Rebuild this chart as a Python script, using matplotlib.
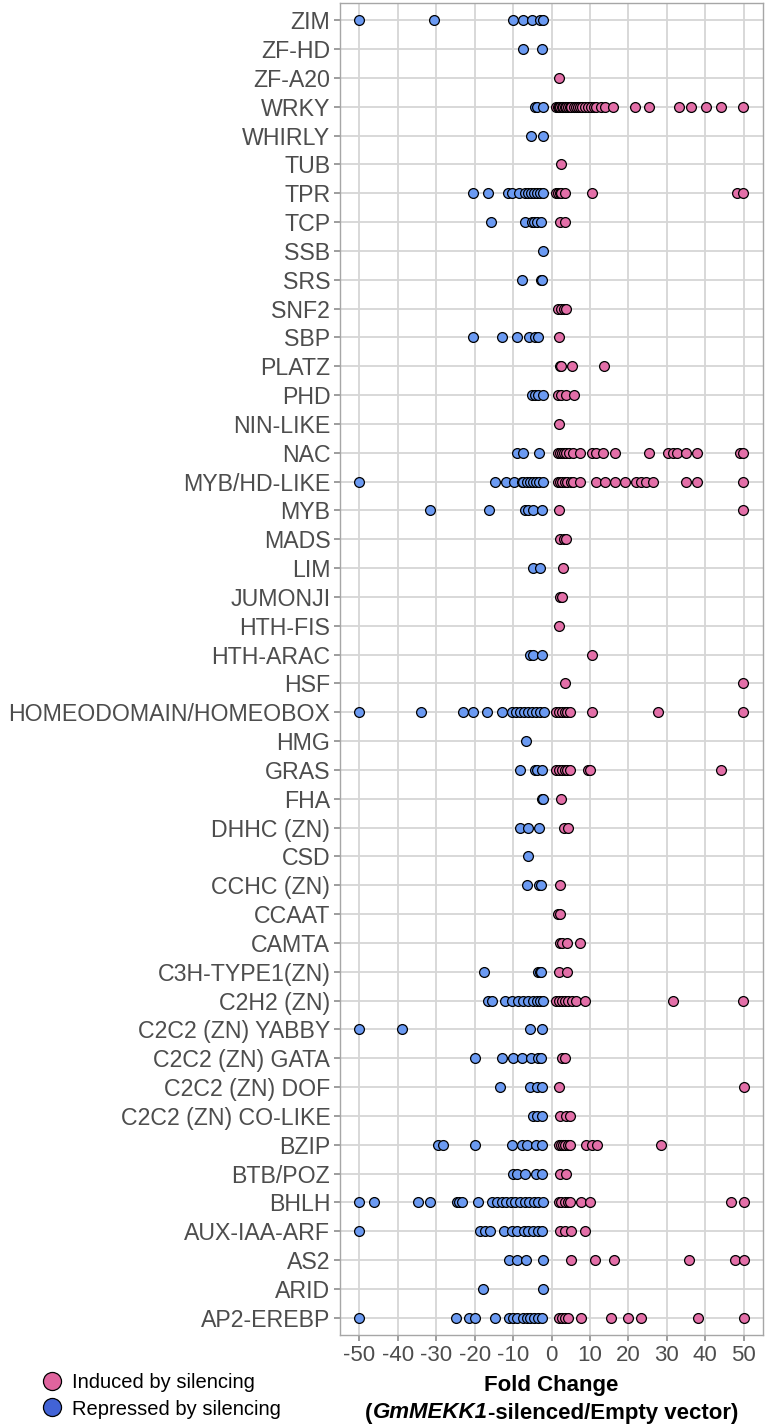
"""Dot plot of TF family fold changes after GmMEKK1 silencing."""

import matplotlib
matplotlib.use('Agg')
import matplotlib.pyplot as plt
from matplotlib.lines import Line2D


CATEGORIES = [
    'ZIM', 'ZF-HD', 'ZF-A20', 'WRKY', 'WHIRLY', 'TUB', 'TPR', 'TCP', 'SSB',
    'SRS', 'SNF2', 'SBP', 'PLATZ', 'PHD', 'NIN-LIKE', 'NAC', 'MYB/HD-LIKE',
    'MYB', 'MADS', 'LIM', 'JUMONJI', 'HTH-FIS', 'HTH-ARAC', 'HSF',
    'HOMEODOMAIN/HOMEOBOX', 'HMG', 'GRAS', 'FHA', 'DHHC (ZN)', 'CSD',
    'CCHC (ZN)', 'CCAAT', 'CAMTA', 'C3H-TYPE1(ZN)', 'C2H2 (ZN)',
    'C2C2 (ZN) YABBY', 'C2C2 (ZN) GATA', 'C2C2 (ZN) DOF', 'C2C2 (ZN) CO-LIKE',
    'BZIP', 'BTB/POZ', 'BHLH', 'AUX-IAA-ARF', 'AS2', 'ARID', 'AP2-EREBP',
]

# fold change of genes induced by silencing, one list per family
INDUCED = [
    [],                                                         # ZIM
    [],                                                         # ZF-HD
    [1.9],                                                      # ZF-A20
    [1.3, 1.6, 2.0, 2.3, 2.7, 3.0, 3.4, 3.8, 4.2, 4.7, 5.2, 5.8,
     6.3, 7.0, 7.3, 8.0, 8.6, 9.5, 10.2, 11.0, 11.6, 12.9, 13.8,
     16.0, 21.6, 25.3, 33.2, 36.4, 40.3, 44.2, 49.8],           # WRKY
    [],                                                         # WHIRLY
    [2.4],                                                      # TUB
    [1.3, 1.8, 2.2, 2.6, 3.4, 10.6, 48.3, 49.8],                # TPR
    [2.2, 3.6],                                                 # TCP
    [],                                                         # SSB
    [],                                                         # SRS
    [1.7, 2.4, 3.2, 3.9],                                       # SNF2
    [1.9],                                                      # SBP
    [2.2, 2.6, 5.3, 13.6],                                      # PLATZ
    [1.7, 2.4, 3.9, 5.8],                                       # PHD
    [1.9],                                                      # NIN-LIKE
    [1.7, 2.2, 2.7, 3.2, 3.8, 4.5, 5.6, 7.3, 10.5, 11.6, 13.4,
     16.4, 25.3, 30.2, 31.7, 32.6, 34.9, 37.8, 49.1, 49.8],     # NAC
    [1.7, 2.2, 2.8, 3.4, 4.1, 5.0, 5.6, 7.3, 11.6, 13.8, 16.4,
     19.0, 22.0, 23.3, 24.6, 26.3, 34.9, 37.8, 49.8],           # MYB/HD-LIKE
    [1.9, 49.8],                                                # MYB
    [2.2, 3.2, 3.9],                                            # MADS
    [3.0],                                                      # LIM
    [2.2, 2.8],                                                 # JUMONJI
    [2.0],                                                      # HTH-FIS
    [10.5],                                                     # HTH-ARAC
    [3.6, 49.8],                                                # HSF
    [1.3, 2.0, 2.7, 3.4, 4.1, 4.7, 10.6, 27.8, 49.8],           # HOMEODOMAIN
    [],                                                         # HMG
    [1.3, 2.0, 2.7, 3.4, 4.1, 4.7, 9.5, 10.1, 44.1],            # GRAS
    [2.4],                                                      # FHA
    [3.2, 4.3],                                                 # DHHC (ZN)
    [],                                                         # CSD
    [2.3],                                                      # CCHC (ZN)
    [1.7, 2.3],                                                 # CCAAT
    [2.2, 2.8, 4.1, 7.3],                                       # CAMTA
    [1.9, 4.1],                                                 # C3H-TYPE1
    [1.3, 2.0, 2.7, 3.4, 4.3, 5.4, 6.5, 8.6, 31.5, 49.8],       # C2H2 (ZN)
    [],                                                         # YABBY
    [2.8, 3.4],                                                 # GATA
    [2.0, 50.0],                                                # DOF
    [2.3, 3.8, 4.8],                                            # CO-LIKE
    [1.9, 2.4, 3.0, 3.6, 4.2, 4.8, 8.9, 10.5, 11.8, 28.6],      # BZIP
    [2.3, 3.9],                                                 # BTB/POZ
    [1.9, 2.6, 3.4, 4.2, 4.8, 7.7, 9.9, 46.6, 50.0],            # BHLH
    [2.3, 3.5, 5.2, 8.6],                                       # AUX-IAA-ARF
    [5.2, 11.4, 16.2, 35.8, 47.6, 50.0],                        # AS2
    [],                                                         # ARID
    [1.9, 2.7, 3.5, 4.2, 7.7, 15.6, 20.0, 23.2, 38.0, 50.0],    # AP2-EREBP
]

# fold change of genes repressed by silencing, one list per family
REPRESSED = [
    [-50.0, -30.6, -10.1, -7.5, -5.2, -3.0, -2.3],              # ZIM
    [-7.3, -2.6],                                               # ZF-HD
    [],                                                         # ZF-A20
    [-4.3, -3.7, -2.2],                                         # WRKY
    [-5.4, -2.2],                                               # WHIRLY
    [],                                                         # TUB
    [-20.3, -16.6, -11.2, -10.3, -8.4, -6.9, -6.2, -5.4, -4.6,
     -3.8, -3.0, -2.2],                                         # TPR
    [-15.8, -6.9, -5.2, -4.5, -3.9, -2.8],                      # TCP
    [-2.2],                                                     # SSB
    [-7.8, -2.8, -2.4],                                         # SRS
    [],                                                         # SNF2
    [-20.3, -12.9, -9.1, -5.9, -4.3, -3.4],                     # SBP
    [],                                                         # PLATZ
    [-5.2, -4.3, -3.4, -2.2],                                   # PHD
    [],                                                         # NIN-LIKE
    [-9.1, -7.3, -3.2],                                         # NAC
    [-50.0, -14.7, -11.9, -9.7, -7.8, -7.3, -6.5, -5.6, -4.8,
     -4.0, -3.2, -2.2],                                         # MYB/HD-LIKE
    [-31.7, -16.2, -6.9, -6.0, -4.7, -2.4],                     # MYB
    [],                                                         # MADS
    [-4.7, -3.0],                                               # LIM
    [],                                                         # JUMONJI
    [],                                                         # HTH-FIS
    [-5.6, -4.7, -2.6],                                         # HTH-ARAC
    [],                                                         # HSF
    [-50.0, -34.0, -23.0, -20.3, -16.8, -12.9, -10.3, -9.2, -8.2,
     -7.2, -6.2, -5.2, -4.1, -3.0, -2.0],                       # HOMEODOMAIN
    [-6.7],                                                     # HMG
    [-8.2, -4.3, -3.7, -2.6],                                   # GRAS
    [-2.6, -2.2],                                               # FHA
    [-8.2, -6.0, -3.3],                                         # DHHC (ZN)
    [-6.0],                                                     # CSD
    [-6.5, -3.3, -2.8],                                         # CCHC (ZN)
    [],                                                         # CCAAT
    [],                                                         # CAMTA
    [-17.5, -3.4, -3.0, -2.8],                                  # C3H-TYPE1
    [-16.4, -15.5, -12.1, -10.2, -8.6, -7.3, -6.0, -4.9, -3.9,
     -3.0, -2.2],                                               # C2H2 (ZN)
    [-50.0, -39.0, -5.6, -2.6],                                 # YABBY
    [-19.8, -12.8, -10.1, -7.8, -5.3, -3.4, -2.8],              # GATA
    [-13.5, -5.7, -3.8, -2.5],                                  # DOF
    [-4.7, -3.7, -2.4],                                         # CO-LIKE
    [-29.4, -28.1, -19.9, -10.4, -7.8, -6.3, -4.1, -2.5],       # BZIP
    [-10.0, -9.1, -7.0, -4.1, -2.5],                            # BTB/POZ
    [-50.0, -46.2, -34.7, -31.5, -24.7, -24.0, -23.3, -19.2,
     -15.4, -14.2, -13.0, -11.8, -10.6, -9.4, -8.2, -7.0, -5.8,
     -4.6, -3.4, -2.2],                                         # BHLH
    [-50.0, -18.6, -17.3, -16.1, -12.3, -10.4, -9.1, -7.2, -6.0,
     -4.8, -3.6, -2.4],                                         # AUX-IAA-ARF
    [-11.0, -8.9, -6.6, -2.2],                                  # AS2
    [-17.7, -2.2],                                              # ARID
    [-50.0, -24.9, -21.5, -19.9, -14.8, -11.0, -10.1, -9.1, -7.5,
     -6.5, -5.6, -4.6, -3.4, -2.4],                             # AP2-EREBP
]

X_TICKS = [-50, -40, -30, -20, -10, 0, 10, 20, 30, 40, 50]
LEGEND_LABELS = ['Induced by silencing', 'Repressed by silencing']

_PINK = '#E36FA8'
_BLUE = '#6B9AF2'
_LEGEND_PINK = '#E0649E'
_LEGEND_BLUE = '#4263D6'
_GRID = '#D6D6D6'
_TEXT = '#4D4D4D'


def _main():
    plt.rcParams['font.family'] = ['Liberation Sans', 'DejaVu Sans']

    fig = plt.figure(figsize=(7.67, 14.26), dpi=100)
    ax = fig.add_axes([340 / 767, 1 - 1335 / 1426,
                       423 / 767, 1332 / 1426])

    _plot_points(ax)
    _style_axes(ax)
    _draw_legend(fig)
    _draw_xlabel(fig, ax)

    fig.savefig('out.png', dpi=100)


def _plot_points(ax):
    for i, (up, down) in enumerate(zip(INDUCED, REPRESSED)):
        if down:
            ax.scatter(down, [i] * len(down), s=50, color=_BLUE,
                       edgecolor='black', linewidth=0.9, zorder=3)
        if up:
            ax.scatter(up, [i] * len(up), s=50, color=_PINK,
                       edgecolor='black', linewidth=0.9, zorder=3)


def _style_axes(ax):
    n = len(CATEGORIES)
    ax.set_xlim(-55, 55)
    ax.set_ylim(n - 1 + 0.6, -0.6)
    ax.set_xticks(X_TICKS)
    ax.set_xticklabels([str(t) for t in X_TICKS])
    ax.set_yticks(range(n))
    ax.set_yticklabels(CATEGORIES)
    ax.tick_params(axis='both', labelcolor=_TEXT, color='#8C8C8C',
                   length=4.5, width=1.2, pad=2.5)
    ax.tick_params(axis='y', labelsize=16.7)
    ax.tick_params(axis='x', labelsize=16)
    ax.grid(True, color=_GRID, linewidth=1.3, zorder=0)
    ax.set_axisbelow(True)
    for spine in ax.spines.values():
        spine.set_color('#A6A6A6')
        spine.set_linewidth(1.0)


def _draw_legend(fig):
    handles = [
        Line2D([], [], linestyle='none', marker='o', markersize=13,
               markerfacecolor=_LEGEND_PINK, markeredgecolor='black',
               markeredgewidth=0.9),
        Line2D([], [], linestyle='none', marker='o', markersize=13,
               markerfacecolor=_LEGEND_BLUE, markeredgecolor='black',
               markeredgewidth=0.9),
    ]
    fig.legend(handles, LEGEND_LABELS, loc='center left',
               bbox_to_anchor=(42 / 767, 1 - 1396 / 1426), frameon=False,
               fontsize=14.5, handlelength=1.0, handletextpad=0.5,
               labelspacing=0.35, borderpad=0, borderaxespad=0)


def _draw_xlabel(fig, ax):
    pos = ax.get_position()
    xc = (pos.x0 + pos.x1) / 2
    fig.text(xc, 1 - 1386 / 1426, 'Fold Change', ha='center', va='center',
             fontsize=16, fontweight='bold')

    y = 1 - 1413 / 1426
    parts = [('(', 'normal'), ('GmMEKK1', 'italic'),
             ('-silenced/Empty vector)', 'normal')]
    texts = [fig.text(0, y, s, fontsize=16, fontweight='bold', style=st,
                      va='center') for s, st in parts]
    renderer = fig.canvas.get_renderer()
    widths = [t.get_window_extent(renderer).width / fig.bbox.width
              for t in texts]
    x = xc - sum(widths) / 2
    for t, w in zip(texts, widths):
        t.set_x(x)
        x += w


if __name__ == '__main__':
    _main()
